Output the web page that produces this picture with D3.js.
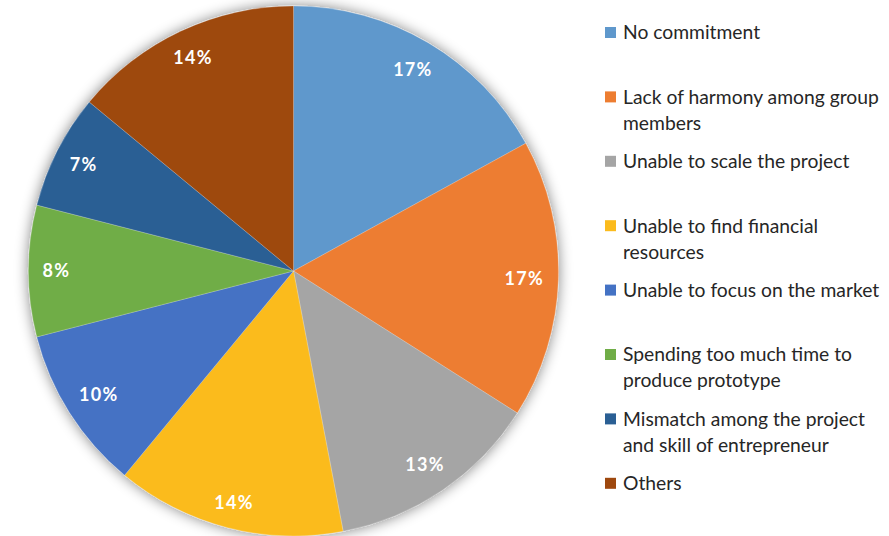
<!DOCTYPE html>
<html>
<head>
<meta charset="utf-8">
<script src="https://cdn.jsdelivr.net/npm/d3@7"></script>
<style>
  html, body { margin: 0; padding: 0; background: #ffffff; }
  svg { display: block; }
</style>
</head>
<body>
<svg id="chart" width="889" height="536"></svg>
<script>
// Reasons reported for project failure (share of respondents, %)
const categories = [
  "No commitment",
  "Lack of harmony among group members",
  "Unable to scale the project",
  "Unable to find financial resources",
  "Unable to focus on the market",
  "Spending too much time to produce prototype",
  "Mismatch among the project and skill of entrepreneur",
  "Others"
];
const legendLines = [
  ["No commitment"],
  ["Lack of harmony among group", "members"],
  ["Unable to scale the project"],
  ["Unable to find financial", "resources"],
  ["Unable to focus on the market"],
  ["Spending too much time to", "produce prototype"],
  ["Mismatch among the project", "and skill of entrepreneur"],
  ["Others"]
];
const values = [17, 17, 13, 14, 10, 8, 7, 14];
const colors = ["#5f98cc", "#ed7d31", "#a5a5a5", "#fbbb1d", "#4472c4", "#70ad47", "#2a5f94", "#9e480e"];

const svg = d3.select("#chart");
const cx = 293.5, cy = 271, radius = 265;

// soft glow under the pie
const defs = svg.append("defs");
const f = defs.append("filter").attr("id", "glow")
  .attr("x", "-20%").attr("y", "-20%").attr("width", "140%").attr("height", "140%");
f.append("feGaussianBlur").attr("in", "SourceAlpha").attr("stdDeviation", 7).attr("result", "b");
f.append("feComponentTransfer").attr("in", "b").attr("result", "s")
  .append("feFuncA").attr("type", "linear").attr("slope", 0.5);
const m = f.append("feMerge");
m.append("feMergeNode").attr("in", "s");
m.append("feMergeNode").attr("in", "SourceGraphic");

const color = d3.scaleOrdinal().domain(categories).range(colors);

const pie = d3.pie().sort(null).value(d => d.value);
const data = categories.map((c, i) => ({ name: c, value: values[i] }));
const arcs = pie(data);

const arc = d3.arc().innerRadius(0).outerRadius(radius);

const g = svg.append("g").attr("transform", `translate(${cx},${cy})`);

g.append("g").attr("filter", "url(#glow)")
  .selectAll("path")
  .data(arcs)
  .join("path")
  .attr("d", arc)
  .attr("fill", d => color(d.data.name))
  .attr("stroke", "rgba(255,255,255,0.35)")
  .attr("stroke-width", 0.6);

// value labels: pushed out along each slice's mid-angle until the
// label box's outer corner sits a fixed distance inside the rim
const fitR = radius - 14;
g.selectAll("text.val")
  .data(arcs)
  .join("text")
  .attr("class", "val")
  .attr("text-anchor", "middle")
  .attr("dy", "0.36em")
  .attr("fill", "#ffffff")
  .attr("font-family", "Lato, 'Open Sans', sans-serif")
  .attr("font-weight", "bold")
  .attr("font-size", 18)
  .attr("letter-spacing", 1.3)
  .text(d => d.data.value + "%")
  .attr("transform", function (d) {
    const a = (d.startAngle + d.endAngle) / 2;
    const ux = Math.sin(a), uy = -Math.cos(a);
    const w = this.getComputedTextLength();
    const hw = w / 2, hh = 7;
    const ox = Math.sign(ux) * hw, oy = Math.sign(uy) * hh;
    const b = ux * ox + uy * oy;
    const c = ox * ox + oy * oy - fitR * fitR;
    const dist = -b + Math.sqrt(b * b - c);
    return `translate(${dist * ux},${dist * uy})`;
  });

// legend
const legend = svg.append("g").attr("transform", "translate(605,0)");
const step = 64.4, firstY = 32.5, lineH = 26;
const items = legend.selectAll("g.item")
  .data(categories)
  .join("g")
  .attr("class", "item")
  .attr("transform", (d, i) => `translate(0,${firstY + i * step})`);

items.append("rect")
  .attr("x", 0).attr("y", -5.5)
  .attr("width", 11).attr("height", 11)
  .attr("fill", d => color(d));

items.each(function (d, i) {
  const t = d3.select(this).append("text")
    .attr("x", 18)
    .attr("y", 0)
    .attr("fill", "#262626")
    .attr("font-family", "Lato, 'Open Sans', sans-serif")
    .attr("font-size", 19.3);
  legendLines[i].forEach((ln, k) => {
    t.append("tspan").attr("x", 18).attr("y", k * lineH).attr("dy", "0.36em").text(ln);
  });
});
</script>
</body>
</html>
